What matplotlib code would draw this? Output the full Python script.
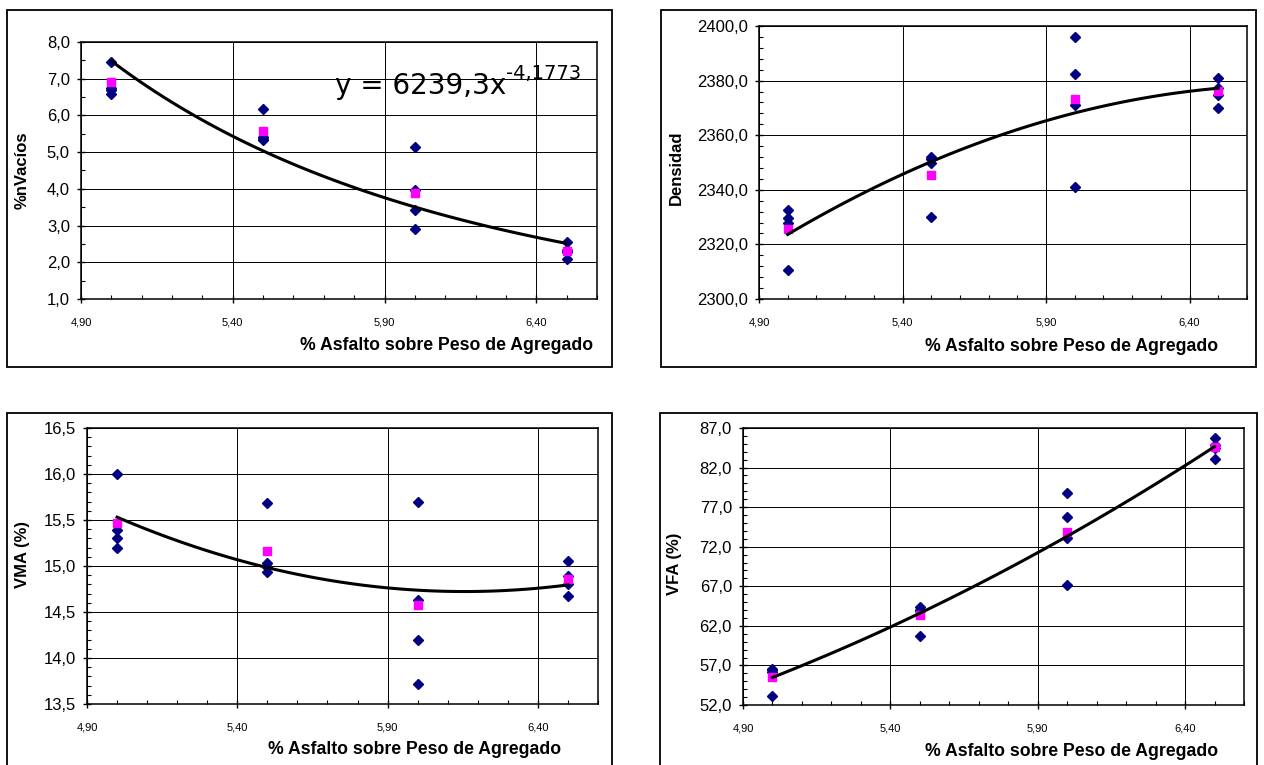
import numpy as np
import matplotlib
matplotlib.use("Agg")
import matplotlib.pyplot as plt
from matplotlib.patches import Rectangle
from matplotlib.ticker import FixedLocator, FuncFormatter

plt.rcParams['font.family'] = ['Liberation Sans', 'DejaVu Sans']

# % asfalto de cada serie de briquetas
asfalto = [5.0, 5.5, 6.0, 6.5]

# valores individuales (4 briquetas por contenido de asfalto)
vacios = [[7.46, 6.76, 6.68, 6.59], [6.18, 5.42, 5.36, 5.33],
          [5.14, 3.97, 3.43, 2.91], [2.55, 2.33, 2.27, 2.08]]
densidad = [[2332.6, 2329.7, 2327.7, 2310.6], [2352.0, 2351.2, 2349.8, 2330.2],
            [2396.0, 2382.5, 2371.1, 2341.0], [2380.8, 2377.4, 2374.6, 2370.0]]
vma = [[16.00, 15.39, 15.30, 15.20], [15.68, 15.03, 14.99, 14.93],
       [15.70, 14.63, 14.20, 13.72], [15.05, 14.89, 14.80, 14.67]]
vfa = [[56.6, 56.4, 56.2, 53.2], [64.4, 64.0, 63.9, 60.7],
       [78.8, 75.7, 73.1, 67.1], [85.7, 84.8, 84.5, 83.1]]

# promedios (cuadrados magenta)
vacios_prom = [6.90, 5.58, 3.88, 2.31]
densidad_prom = [2325.7, 2345.6, 2373.3, 2376.2]
vma_prom = [15.47, 15.16, 14.58, 14.86]
vfa_prom = [55.6, 63.4, 73.9, 84.55]

ecuacion = "y = 6239,3x"
exponente = "-4,1773"
xlabel = "% Asfalto sobre Peso de Agregado"

W, H = 1264, 765
fig = plt.figure(figsize=(W / 100, H / 100), dpi=100)


def rect(l, t, r, b):
    # pixel box -> figure fraction
    return [l / W, 1 - b / H, (r - l) / W, (b - t) / H]


def coma(fmt):
    return FuncFormatter(lambda v, p: format(v, fmt).replace('.', ','))


def panel(box, axbox, datos, prom, ylim, ystep, yminor, ylabel, ylab_pos, xlab_pos, ajuste):
    fig.patches.append(Rectangle((box[0] / W, 1 - box[3] / H), (box[2] - box[0]) / W,
                                 (box[3] - box[1]) / H, transform=fig.transFigure,
                                 fill=False, edgecolor='black', lw=1.3))
    ax = fig.add_axes(rect(*axbox))
    xs, ys = [], []
    for x, vals in zip(asfalto, datos):
        xs += [x] * len(vals)
        ys += vals
    xs, ys = np.array(xs), np.array(ys)
    ax.plot(xs, ys, 'D', color='#000080', ms=5.2, zorder=3)
    ax.plot(asfalto, prom, 's', color='#FF00FF', ms=6.2, zorder=4)

    # linea de tendencia ajustada a los datos
    xf = np.linspace(min(asfalto), max(asfalto), 120)
    if ajuste == 'potencia':
        b, a = np.polyfit(np.log(xs), np.log(ys), 1)
        yf = np.exp(a) * xf ** b
    else:
        yf = np.polyval(np.polyfit(xs, ys, 2), xf)
    ax.plot(xf, yf, color='black', lw=2.2, zorder=5)

    ax.set_xlim(4.9, 6.6)
    ax.set_ylim(*ylim)
    ax.xaxis.set_major_locator(FixedLocator(np.arange(4.9, 6.61, 0.5)))
    ax.xaxis.set_minor_locator(FixedLocator(np.arange(4.9, 6.61, 0.1)))
    ax.yaxis.set_major_locator(FixedLocator(np.arange(ylim[0], ylim[1] + ystep / 2, ystep)))
    ax.yaxis.set_minor_locator(FixedLocator(np.arange(ylim[0], ylim[1] + yminor / 2, yminor)))
    ax.xaxis.set_major_formatter(coma('.2f'))
    ax.yaxis.set_major_formatter(coma('.1f'))
    ax.grid(True, which='major', color='black', lw=0.7)
    ax.set_axisbelow(True)
    for s in ax.spines.values():
        s.set_linewidth(1.1)
    ax.tick_params(which='major', direction='inout', length=6, width=1)
    ax.tick_params(which='minor', direction='in', length=3, width=0.8)
    ax.tick_params(axis='x', which='major', labelsize=8, pad=10)
    ax.tick_params(axis='y', which='major', labelsize=12, pad=5)
    ax.tick_params(top=False, right=False, which='both')

    fig.text(ylab_pos[0] / W, 1 - ylab_pos[1] / H, ylabel, rotation=90, ha='center',
             va='center', fontsize=12, fontweight='bold')
    fig.text(xlab_pos[0] / W, 1 - xlab_pos[1] / H, xlabel, ha='right', va='center',
             fontsize=12.7, fontweight='bold')
    return ax


ax1 = panel((7, 10, 612, 367), (81, 42, 597, 299), vacios, vacios_prom, (1.0, 8.0), 1.0, 0.5,
            "%nVacíos", (22, 170), (593, 346), 'potencia')
panel((661, 10, 1256, 367), (759, 26, 1247, 299), densidad, densidad_prom, (2300.0, 2400.0), 20.0, 4.0,
      "Densidad", (676, 168), (1218, 347), 'poli')
panel((7, 413, 612, 770), (87, 428, 598, 704), vma, vma_prom, (13.5, 16.5), 0.5, 0.1,
      "VMA (%)", (23, 554), (561, 750), 'poli')
panel((660, 413, 1257, 770), (743, 428, 1244, 705), vfa, vfa_prom, (52.0, 87.0), 5.0, 1.0,
      "VFA (%)", (675, 564), (1218, 751), 'poli')

# ecuacion de la linea de tendencia
t = fig.text(335 / W, 1 - 94 / H, ecuacion, fontsize=20, family='DejaVu Sans',
             ha='left', va='baseline')
ax1.annotate(exponente, xy=(1, 1 - 79 / H), xycoords=(t, 'figure fraction'),
             ha='left', va='baseline', fontsize=14, family='DejaVu Sans',
             annotation_clip=False)

fig.savefig("out.png", dpi=100)
